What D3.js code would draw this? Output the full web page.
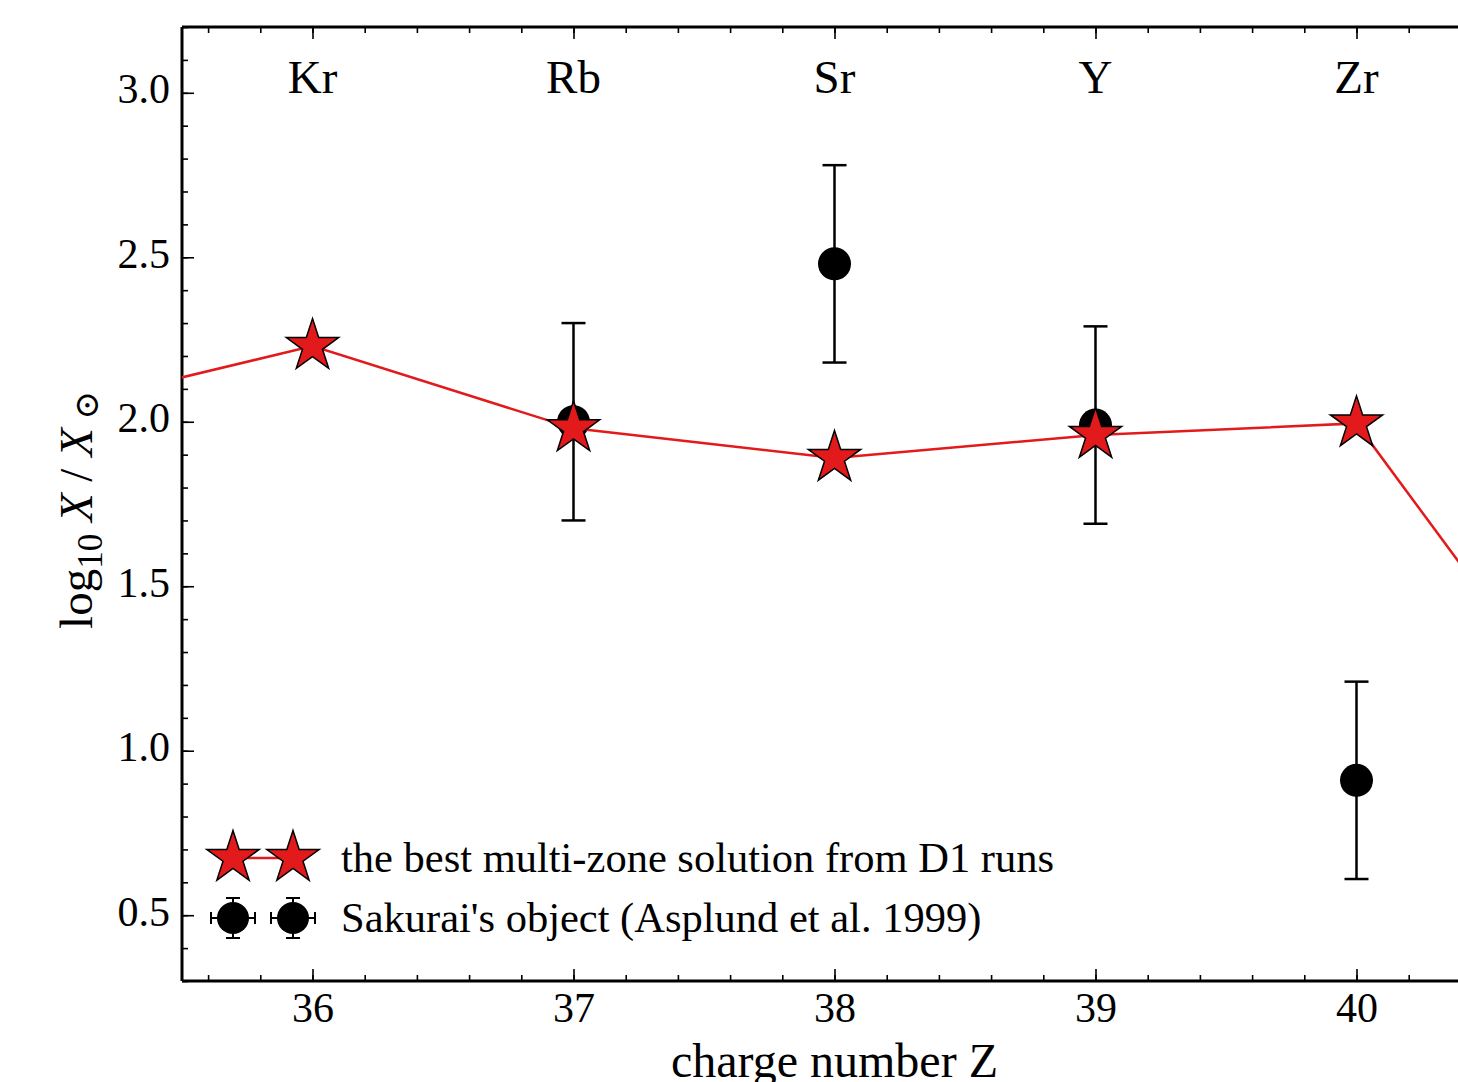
<!DOCTYPE html>
<html>
<head>
<meta charset="utf-8">
<script src="https://cdn.jsdelivr.net/npm/d3@7"></script>
<style>
  html, body { margin: 0; padding: 0; background: #fff; overflow: hidden; }
  svg { display: block; font-family: "Liberation Serif", "DejaVu Serif", serif; }
</style>
</head>
<body>
<div id="chart"></div>
<script>
// element labels along the top
const elements = ["Kr", "Rb", "Sr", "Y", "Zr"];
const elementZ = [36, 37, 38, 39, 40];

// model: best multi-zone solution (red stars + line), includes neighbours off the frame
const modelZ = [35, 36, 37, 38, 39, 40, 41];
const modelVal = [2.04, 2.23, 1.98, 1.89, 1.96, 1.995, 0.92];
const starZ = [36, 37, 38, 39, 40];

// Sakurai's object observations
const obsZ = [37, 38, 39, 40];
const obsVal = [2.0, 2.48, 1.99, 0.91];
const obsErr = [0.3, 0.3, 0.3, 0.3];

const xTicks = [36, 37, 38, 39, 40];
const yTicks = [0.5, 1.0, 1.5, 2.0, 2.5, 3.0];

const legendLabels = [
  "the best multi-zone solution from D1 runs",
  "Sakurai's object (Asplund et al. 1999)"
];

const W = 1458, H = 1082;
const mLeft = 182, mTop = 27, mBottom = 981;
const red = "#e31a1c";

const x = d3.scaleLinear().domain([35.5, 40.5]).range([mLeft, mLeft + 5 * 261]);
const y = d3.scaleLinear().domain([0.3, 3.2]).range([mBottom, mTop]);

const svg = d3.select("#chart").append("svg")
  .attr("width", W).attr("height", H);

svg.append("defs").append("clipPath").attr("id", "plotclip")
  .append("rect")
  .attr("x", mLeft).attr("y", mTop)
  .attr("width", x.range()[1] - mLeft).attr("height", mBottom - mTop);

// axes, ticks inward
const xMinor = d3.range(35.6, 40.5, 0.2);
const yMinor = d3.range(0.3, 3.21, 0.1);

const axB = svg.append("g").attr("transform", `translate(0,${mBottom})`);
axB.call(d3.axisBottom(x).tickValues(xMinor).tickSize(-6).tickFormat(""));
axB.append("g").call(d3.axisBottom(x).tickValues(xTicks).tickSize(-12).tickPadding(11).tickFormat(d3.format("d")));

const axT = svg.append("g").attr("transform", `translate(0,${mTop})`);
axT.call(d3.axisTop(x).tickValues(xMinor).tickSize(-6).tickFormat(""));
axT.append("g").call(d3.axisTop(x).tickValues(xTicks).tickSize(-12).tickFormat(""));

const axL = svg.append("g").attr("transform", `translate(${mLeft},0)`);
axL.call(d3.axisLeft(y).tickValues(yMinor).tickSize(-6).tickFormat(""));
axL.append("g").call(d3.axisLeft(y).tickValues(yTicks).tickSize(-12).tickPadding(12).tickFormat(d3.format(".1f")));
axL.selectAll(".tick text").attr("dy", "0.24em");

svg.selectAll(".domain").remove();
svg.selectAll(".tick line").attr("stroke", "#000").attr("stroke-width", 1.6);
svg.selectAll(".tick text").attr("font-size", 42).attr("fill", "#000")
  .attr("font-family", "Liberation Serif, serif");

// spines
svg.append("line").attr("x1", mLeft).attr("x2", mLeft).attr("y1", mTop).attr("y2", mBottom)
  .attr("stroke", "#000").attr("stroke-width", 3);
svg.append("line").attr("x1", mLeft).attr("x2", W).attr("y1", mTop).attr("y2", mTop)
  .attr("stroke", "#000").attr("stroke-width", 3);
svg.append("line").attr("x1", mLeft).attr("x2", W).attr("y1", mBottom).attr("y2", mBottom)
  .attr("stroke", "#000").attr("stroke-width", 3);

// element labels
svg.selectAll(".elem").data(elements).enter().append("text")
  .attr("x", (d, i) => x(elementZ[i]))
  .attr("y", 93)
  .attr("text-anchor", "middle")
  .attr("font-size", 47)
  .text(d => d);

const plot = svg.append("g").attr("clip-path", "url(#plotclip)");

// observations: error bars + circles
const obs = obsZ.map((z, i) => ({ z, v: obsVal[i], e: obsErr[i] }));
const capW = 12;
const eb = plot.append("g").attr("stroke", "#000").attr("stroke-width", 2.5);
obs.forEach(d => {
  eb.append("line").attr("x1", x(d.z)).attr("x2", x(d.z))
    .attr("y1", y(d.v - d.e)).attr("y2", y(d.v + d.e));
  [d.v - d.e, d.v + d.e].forEach(v => {
    eb.append("line").attr("x1", x(d.z) - capW).attr("x2", x(d.z) + capW)
      .attr("y1", y(v)).attr("y2", y(v));
  });
});
plot.selectAll(".obs").data(obs).enter().append("circle")
  .attr("cx", d => x(d.z)).attr("cy", d => y(d.v)).attr("r", 16.5)
  .attr("fill", "#000");

// model line
const model = modelZ.map((z, i) => ({ z, v: modelVal[i] }));
plot.append("path").datum(model)
  .attr("d", d3.line().x(d => x(d.z)).y(d => y(d.v)))
  .attr("fill", "none").attr("stroke", red).attr("stroke-width", 2.5);

const star = d3.symbol().type(d3.symbolStar).size(850);
plot.selectAll(".star").data(model.filter(d => starZ.includes(d.z))).enter().append("path")
  .attr("d", star)
  .attr("transform", d => `translate(${x(d.z)},${y(d.v)})`)
  .attr("fill", red).attr("stroke", "#000").attr("stroke-width", 1.5);

// legend
const lg = svg.append("g");
const lx1 = 233, lx2 = 293, ly1 = 858, ly2 = 918;
lg.append("line").attr("x1", lx1).attr("x2", lx2).attr("y1", ly1).attr("y2", ly1)
  .attr("stroke", red).attr("stroke-width", 2.5);
[lx1, lx2].forEach(px => {
  lg.append("path").attr("d", star).attr("transform", `translate(${px},${ly1})`)
    .attr("fill", red).attr("stroke", "#000").attr("stroke-width", 1.5);
  const e = lg.append("g").attr("stroke", "#000").attr("stroke-width", 2);
  e.append("line").attr("x1", px - 22).attr("x2", px + 22).attr("y1", ly2).attr("y2", ly2);
  e.append("line").attr("x1", px).attr("x2", px).attr("y1", ly2 - 20).attr("y2", ly2 + 20);
  e.append("line").attr("x1", px - 22).attr("x2", px - 22).attr("y1", ly2 - 6).attr("y2", ly2 + 6);
  e.append("line").attr("x1", px + 22).attr("x2", px + 22).attr("y1", ly2 - 6).attr("y2", ly2 + 6);
  e.append("line").attr("x1", px - 7).attr("x2", px + 7).attr("y1", ly2 - 20).attr("y2", ly2 - 20);
  e.append("line").attr("x1", px - 7).attr("x2", px + 7).attr("y1", ly2 + 20).attr("y2", ly2 + 20);
  lg.append("circle").attr("cx", px).attr("cy", ly2).attr("r", 16).attr("fill", "#000");
});
lg.selectAll(".lt").data(legendLabels).enter().append("text")
  .attr("x", 341).attr("y", (d, i) => [ly1, ly2][i] + 14)
  .attr("font-size", 42.5)
  .text(d => d);

// axis labels
svg.append("text")
  .attr("x", x(38)).attr("y", 1077)
  .attr("text-anchor", "middle").attr("font-size", 48)
  .text("charge number Z");

const yl = svg.append("text")
  .attr("transform", `translate(92,510) rotate(-90)`)
  .attr("text-anchor", "middle").attr("font-size", 47);
yl.append("tspan").text("log");
yl.append("tspan").attr("font-size", 35).attr("dy", 10).text("10");
yl.append("tspan").attr("dy", -10).attr("font-style", "italic").text(" X");
yl.append("tspan").text(" / ");
yl.append("tspan").attr("font-style", "italic").text("X");
yl.append("tspan").attr("font-size", 34).attr("dy", 6).text(" ⊙");
</script>
</body>
</html>
